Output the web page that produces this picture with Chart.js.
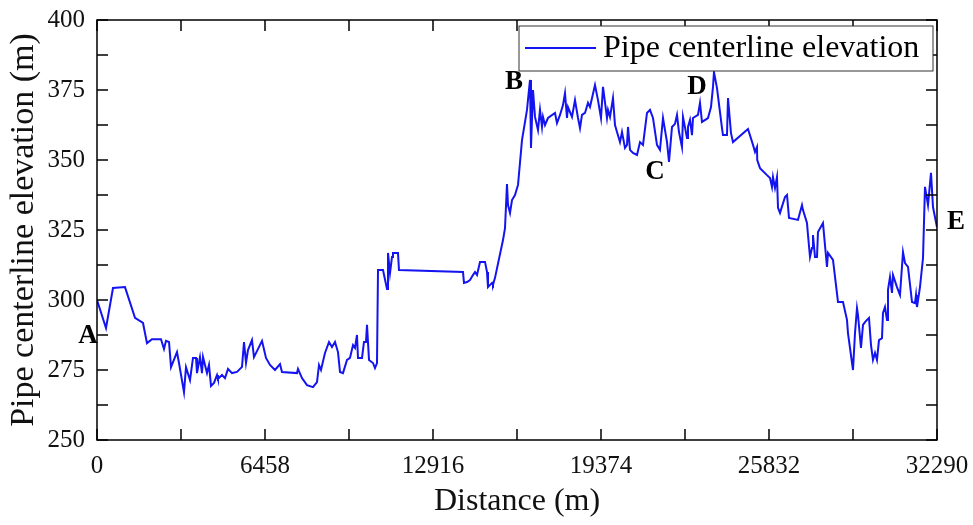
<!DOCTYPE html>
<html>
<head>
<meta charset="utf-8">
<script src="https://cdn.jsdelivr.net/npm/chart.js@4.4.1/dist/chart.umd.min.js"></script>
<style>
  html, body { margin: 0; padding: 0; background: #fff; }
  #wrap { width: 973px; height: 525px; }
</style>
</head>
<body>
<div id="wrap"><canvas id="profile" width="973" height="525"></canvas></div>
<script>
// distance along the pipe (m)
const distance = [
  0, 346, 615, 1076, 1461, 1768, 1922, 2114, 2460, 2575, 2652, 2768, 2845, 3075, 3152, 3344, 3421, 3575, 3690, 3806,
  3844, 3959, 4036, 4075, 4228, 4305, 4382, 4497, 4613, 4651, 4805, 4920, 5036, 5189, 5382, 5574, 5651, 5728, 5804, 5958,
  6035, 6343, 6496, 6650, 6842, 7035, 7111, 7688, 7726, 7880, 8072, 8303, 8457, 8534, 8610, 8764, 8918, 9033, 9149, 9264,
  9341, 9456, 9610, 9725, 9841, 9918, 9994, 10033, 10187, 10263, 10340, 10379, 10456, 10609, 10686, 10763, 10802, 10994, 11148, 11186,
  11263, 11340, 11378, 11570, 11609, 14069, 14107, 14223, 14338, 14453, 14530, 14607, 14723, 14915, 14992, 15030, 15184, 15222, 15299, 15607,
  15684, 15760, 15799, 15876, 15953, 16068, 16184, 16337, 16529, 16645, 16683, 16760, 16837, 16952, 17029, 17106, 17144, 17221, 17336, 17606,
  17682, 17798, 17913, 17990, 18067, 18105, 18259, 18374, 18490, 18567, 18643, 18759, 18874, 18951, 19143, 19258, 19374, 19451, 19604, 19643,
  19720, 19835, 19912, 19989, 20104, 20181, 20296, 20373, 20412, 20489, 20604, 20758, 20873, 20988, 21142, 21257, 21373, 21526, 21641, 21757,
  21911, 21988, 22103, 22218, 22295, 22372, 22487, 22526, 22680, 22718, 22795, 22872, 22910, 23102, 23179, 23256, 23487, 23602, 23679, 23717,
  23833, 24025, 24063, 24217, 24256, 24371, 24448, 25024, 25217, 25294, 25370, 25380, 25486, 25755, 25870, 25947, 25985, 26062, 26139, 26178,
  26255, 26447, 26524, 26601, 26946, 27100, 27139, 27292, 27331, 27408, 27485, 27523, 27600, 27677, 27715, 27907, 27984, 28061, 28100, 28292,
  28484, 28676, 28830, 28868, 29061, 29138, 29214, 29253, 29368, 29445, 29522, 29599, 29676, 29753, 29829, 29906, 29983, 30060, 30175, 30214,
  30291, 30368, 30406, 30483, 30560, 30598, 30752, 30867, 30983, 31060, 31175, 31329, 31444, 31483, 31521, 31636, 31752, 31828, 31944, 32059,
  32136, 32290
];

// pipe centerline elevation (m)
const elevation = [
  300, 290, 304.3, 304.6, 293.6, 291.8, 284.6, 286, 286, 282.5, 285.4, 285, 276, 281.4, 277.5, 267.1, 276, 271.4, 279.3, 279.3,
  273.9, 279.6, 273.9, 279.6, 273.9, 276.8, 269.3, 270.4, 273.2, 271.8, 273.2, 272.1, 275.4, 273.9, 274.3, 276.1, 285, 277.5, 282.1, 285.7,
  279.6, 285.4, 279.3, 276.8, 275, 277.1, 274.3, 273.9, 275.4, 272.1, 269.6, 268.9, 270.7, 276.8, 275, 281.1, 285, 283.2, 285, 281.4,
  274.3, 273.9, 278.6, 279.3, 283.9, 282.9, 287.5, 279.3, 279.3, 285, 285, 291.1, 278.6, 277.5, 275.7, 277.5, 310.7, 310.7, 303.9, 316.8,
  309.6, 315.4, 316.8, 316.8, 310.7, 310, 306.1, 306.4, 307.1, 308.9, 310, 308.9, 313.6, 313.6, 310, 304.6, 306.1, 305.4, 307.9, 321.4,
  325.7, 341.4, 333.9, 331.1, 335.7, 337.5, 341.1, 357.1, 367.9, 378.6, 354.3, 375, 365.4, 360.7, 367.9, 361.8, 365.4, 362.5, 365, 366.8,
  363.2, 366.1, 369.6, 373.9, 365, 368.9, 365.4, 371.4, 365, 361.4, 366.1, 366.8, 370.4, 368.9, 376.8, 371.4, 365, 376.1, 365, 367.9,
  365.4, 372.1, 362.5, 360, 356.4, 360, 354.3, 355.4, 361.8, 353.6, 352.5, 351.8, 356.4, 355.4, 366.8, 367.9, 365, 355.4, 353.6, 365,
  356.4, 349.3, 361.8, 362.9, 366.1, 360, 354.6, 365.4, 357.9, 361.8, 364.3, 358.9, 365, 366.1, 370.4, 363.6, 365, 368.9, 376.1, 381.4,
  375.7, 361.4, 358.9, 358.9, 372.1, 359.6, 356.4, 361.1, 355.4, 352.9, 354.6, 350, 347.1, 344.6, 343.6, 340.4, 343.9, 340, 343.9, 332.9,
  331.1, 336.8, 337.5, 329.3, 328.6, 333.9, 332.1, 327.5, 323.2, 315.4, 318.6, 323.2, 315.4, 315.4, 324.3, 327.5, 319.6, 311.8, 316.8, 314.3,
  299.3, 299.3, 292.9, 288.2, 275, 288.2, 297.1, 294.6, 282.9, 291.1, 292.1, 292.9, 293.6, 283.9, 278.6, 281.1, 278.6, 285.7, 286.4, 295.4,
  297.5, 292.9, 303.6, 308.2, 302.5, 308.9, 304.6, 301.8, 317.1, 313.2, 311.8, 299.3, 298.9, 301.8, 297.5, 304.6, 315, 340.4, 333.9, 345.4,
  333.2, 326
];

const xTicks = [0, 6458, 12916, 19374, 25832, 32290];
const yTicks = [250, 275, 300, 325, 350, 375, 400];

// point labels A-E (distance, elevation)
const pointNames = ['A', 'B', 'C', 'D', 'E'];
const pointX = [-346, 16030, 21450, 23064, 33020];
const pointY = [287, 377.9, 345.7, 376, 327.9];

const serif = '"Liberation Serif", "Times New Roman", serif';
const lineBlue = '#1414f0';

const frame = {
  id: 'frame',
  afterDraw(chart) {
    const ctx = chart.ctx;
    const a = chart.chartArea;
    const xs = chart.scales.x, ys = chart.scales.y;
    ctx.save();
    ctx.strokeStyle = '#000';
    ctx.lineWidth = 1.5;
    ctx.strokeRect(a.left, a.top, a.right - a.left, a.bottom - a.top);

    // inward ticks on all four sides, at major and half steps
    const tl = 11;
    ctx.beginPath();
    for (let v = 250; v <= 400; v += 12.5) {
      const py = ys.getPixelForValue(v);
      ctx.moveTo(a.left, py); ctx.lineTo(a.left + tl, py);
      ctx.moveTo(a.right, py); ctx.lineTo(a.right - tl, py);
    }
    for (let v = 0; v <= 32290; v += 3229) {
      const px = xs.getPixelForValue(v);
      ctx.moveTo(px, a.bottom); ctx.lineTo(px, a.bottom - tl);
      ctx.moveTo(px, a.top); ctx.lineTo(px, a.top + tl);
    }
    ctx.stroke();

    // point labels
    ctx.fillStyle = '#000';
    ctx.font = 'bold 27px ' + serif;
    ctx.textAlign = 'center';
    ctx.textBaseline = 'middle';
    pointNames.forEach((n, i) => {
      ctx.fillText(n, xs.getPixelForValue(pointX[i]), ys.getPixelForValue(pointY[i]));
    });

    // legend box
    const lx = 519, ly = 26, lw = 414, lh = 45;
    ctx.fillStyle = '#fff';
    ctx.fillRect(lx, ly, lw, lh);
    ctx.lineWidth = 1;
    ctx.strokeStyle = '#333';
    ctx.strokeRect(lx, ly, lw, lh);
    ctx.strokeStyle = lineBlue;
    ctx.lineWidth = 2;
    ctx.beginPath();
    ctx.moveTo(525, 48); ctx.lineTo(596, 48);
    ctx.stroke();
    ctx.fillStyle = '#000';
    ctx.font = '32px ' + serif;
    ctx.textAlign = 'left';
    ctx.fillText(chart.data.datasets[0].label, 603, 49);
    ctx.restore();
  }
};

new Chart(document.getElementById('profile'), {
  type: 'line',
  data: {
    datasets: [{
      label: 'Pipe centerline elevation',
      data: distance.map((d, i) => ({ x: d, y: elevation[i] })),
      borderColor: lineBlue,
      borderWidth: 2,
      pointRadius: 0,
      tension: 0,
      fill: false
    }]
  },
  options: {
    responsive: false,
    animation: false,
    layout: { padding: { top: 20, right: 36, left: 0, bottom: 0 } },
    plugins: { legend: { display: false }, tooltip: { enabled: false } },
    scales: {
      x: {
        type: 'linear',
        min: 0,
        max: 32290,
        afterBuildTicks: s => { s.ticks = xTicks.map(v => ({ value: v })); },
        afterFit: s => { s.height = 85; s.paddingLeft = 0; s.paddingRight = 0; },
        grid: { display: false, drawTicks: false },
        border: { display: false },
        ticks: {
          color: '#111',
          font: { family: serif, size: 25 },
          padding: 11,
          maxRotation: 0,
          callback: v => String(v)
        },
        title: {
          display: true,
          text: 'Distance (m)',
          color: '#111',
          font: { family: serif, size: 32 },
          padding: { top: 0 }
        }
      },
      y: {
        min: 250,
        max: 400,
        afterBuildTicks: s => { s.ticks = yTicks.map(v => ({ value: v })); },
        afterFit: s => { s.width = 97; s.paddingTop = 0; s.paddingBottom = 0; },
        grid: { display: false, drawTicks: false },
        border: { display: false },
        ticks: {
          color: '#111',
          font: { family: serif, size: 25 },
          padding: 12
        },
        title: {
          display: true,
          text: 'Pipe centerline elevation (m)',
          color: '#111',
          font: { family: serif, size: 34 },
          padding: { top: 4, bottom: 0 }
        }
      }
    }
  },
  plugins: [frame]
});
</script>
</body>
</html>
